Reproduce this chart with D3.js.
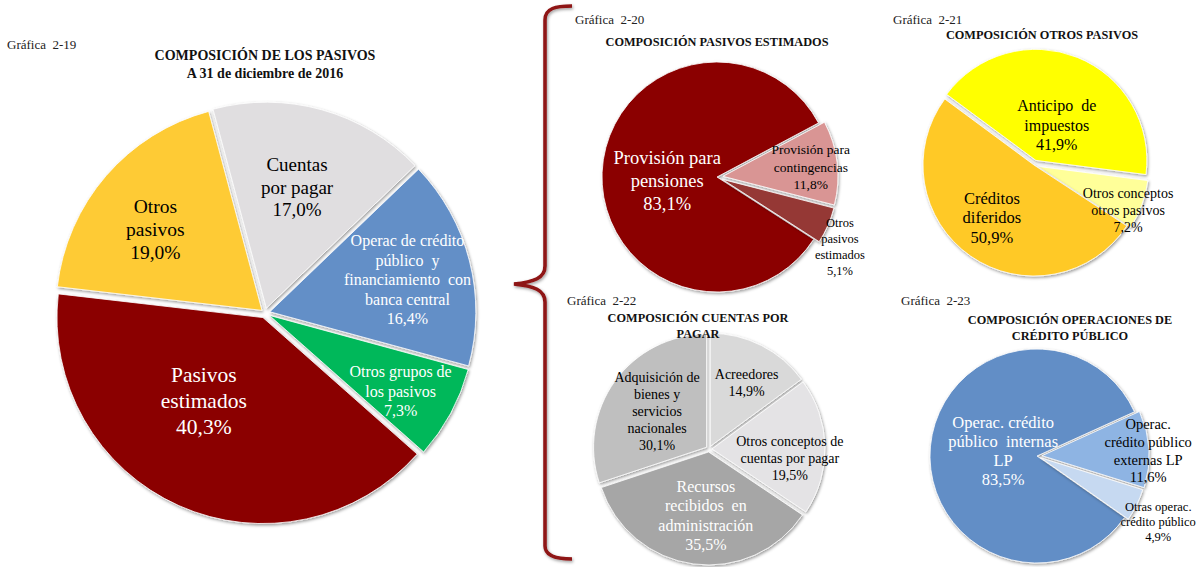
<!DOCTYPE html>
<html>
<head>
<meta charset="utf-8">
<script src="https://cdn.jsdelivr.net/npm/d3@7"></script>
<style>
    body { margin: 0; background: #fff; }
    text { white-space: pre; }
</style>
</head>
<body>
<svg id="chart" width="1202" height="567"></svg>
<script>
// data (percent of each total)
const mainCategories = ["Cuentas\npor pagar", "Operac de crédito\npúblico  y\nfinanciamiento  con\nbanca central", "Otros grupos de\nlos pasivos", "Pasivos\nestimados", "Otros\npasivos"];
const mainValues = [17.0, 16.4, 7.3, 40.3, 19.0];

const estCategories = ["Provisión para\npensiones", "Provisión para\ncontingencias", "Otros\npasivos\nestimados"];
const estValues = [83.1, 11.8, 5.1];

const otrosCategories = ["Anticipo  de\nimpuestos", "Otros conceptos\notros pasivos", "Créditos\ndiferidos"];
const otrosValues = [41.9, 7.2, 50.9];

const cuentasCategories = ["Acreedores", "Otros conceptos de\ncuentas por pagar", "Recursos\nrecibidos  en\nadministración", "Adquisición de\nbienes y\nservicios\nnacionales"];
const cuentasValues = [14.9, 19.5, 35.5, 30.1];

const creditoCategories = ["Operac. crédito\npúblico  internas\nLP", "Operac.\ncrédito público\nexternas LP", "Otras operac.\ncrédito público"];
const creditoValues = [83.5, 11.6, 4.9];

const FONT = "'Liberation Serif', 'Times New Roman', Times, serif";
const pct = v => d3.format(".1f")(v).replace(".", ",") + "%";

const charts = [
    {
        cats: mainCategories, vals: mainValues,
        cx: 265, cy: 313, r: 206, start: -15,
        colors: ["#e0dee0", "#648fc7", "#00b85a", "#8b0000", "#fecb35"],
        explode: [5, 5, 5, 5, 4],
        textColors: ["#000", "#fff", "#fff", "#fff", "#000"],
        fontSizes: [19, 16, 16, 21.5, 19.5],
        lineH: [22.5, 19.5, 19.5, 26, 23],
        labelR: [0.63, 0.71, 0.76, 0.52, 0.67],
        labelShift: [-1.3, 1.2, 1.6, 10.8, -3.4],
        num: "Gráfica  2-19", numX: 7, numY: 49,
        title: ["COMPOSICIÓN DE LOS PASIVOS", "A 31 de diciembre de 2016"],
        titleX: 265, titleY: 60, titleSize: 14, titleLH: 18
    },
    {
        cats: estCategories, vals: estValues,
        cx: 717, cy: 177, r: 115, start: -237.2,
        colors: ["#8b0000", "#d99594", "#953735"],
        explode: [0, 6, 6],
        textColors: ["#fff", "#000", "#000"],
        fontSizes: [18.5, 13.5, 12.5],
        lineH: [23, 17.3, 16.3],
        labelR: [0.435, 0.82, 1.23],
        labelShift: [-7, 0.8, 6],
        num: "Gráfica  2-20", numX: 575, numY: 24,
        title: ["COMPOSICIÓN PASIVOS ESTIMADOS"],
        titleX: 717, titleY: 46, titleSize: 12.3, titleLH: 16
    },
    {
        cats: otrosCategories, vals: otrosValues,
        cx: 1034, cy: 165, r: 111, start: -53.5,
        colors: ["#ffff00", "#ffff99", "#ffc926"],
        explode: [5, 4, 0],
        textColors: ["#000", "#000", "#000"],
        fontSizes: [16, 14, 16.5],
        lineH: [19.5, 17, 19.5],
        labelR: [0.41, 0.94, 0.61],
        labelShift: [8, 5.3, 3.6],
        num: "Gráfica  2-21", numX: 893, numY: 24,
        title: ["COMPOSICIÓN OTROS PASIVOS"],
        titleX: 1042, titleY: 39, titleSize: 12.3, titleLH: 16
    },
    {
        cats: cuentasCategories, vals: cuentasValues,
        cx: 709, cy: 449, r: 113, start: 0,
        colors: ["#d9d9d9", "#e4e3e5", "#a6a6a6", "#bfbfbf"],
        explode: [3, 3, 3, 3],
        textColors: ["#000", "#000", "#fff", "#000"],
        fontSizes: [14, 14, 16, 14],
        lineH: [17, 17, 19.5, 17],
        labelR: [0.67, 0.72, 0.59, 0.57],
        labelShift: [3, 7.6, -5, 0.4],
        num: "Gráfica  2-22", numX: 567, numY: 305,
        title: ["COMPOSICIÓN CUENTAS POR", "PAGAR"],
        titleX: 698, titleY: 322, titleSize: 12.3, titleLH: 16
    },
    {
        cats: creditoCategories, vals: creditoValues,
        cx: 1037, cy: 456, r: 107, start: -235,
        colors: ["#628ec6", "#8eb4e3", "#c6d9f1"],
        explode: [0, 5, 4],
        textColors: ["#fff", "#000", "#000"],
        fontSizes: [16.5, 14.5, 12.5],
        lineH: [19, 17.7, 15],
        labelR: [0.32, 1.04, 1.29],
        labelShift: [3, 1, 2.4],
        num: "Gráfica  2-23", numX: 901, numY: 305,
        title: ["COMPOSICIÓN OPERACIONES DE", "CRÉDITO PÚBLICO"],
        titleX: 1070, titleY: 324, titleSize: 12.3, titleLH: 16
    }
];

const svg = d3.select("#chart");

const defs = svg.append("defs");
const filter = defs.append("filter")
    .attr("id", "shadow")
    .attr("x", "-20%").attr("y", "-20%")
    .attr("width", "140%").attr("height", "140%");
filter.append("feDropShadow")
    .attr("dx", 1).attr("dy", 1.5)
    .attr("stdDeviation", 1.6)
    .attr("flood-color", "#000")
    .attr("flood-opacity", 0.4);

function drawPie(c) {
    const rad = Math.PI / 180;
    const pie = d3.pie()
        .sort(null)
        .value(d => d)
        .startAngle(c.start * rad)
        .endAngle(c.start * rad + 2 * Math.PI);

    const arc = d3.arc()
        .innerRadius(0)
        .outerRadius(c.r);

    const g = svg.append("g")
        .attr("transform", "translate(" + c.cx + "," + c.cy + ")");

    const arcs = pie(c.vals);

    g.selectAll("path")
        .data(arcs)
        .enter()
        .append("path")
        .attr("d", arc)
        .attr("fill", (d, i) => c.colors[i])
        .attr("stroke", "#fff")
        .attr("stroke-width", 0.8)
        .attr("filter", "url(#shadow)")
        .attr("transform", (d, i) => {
            const mid = (d.startAngle + d.endAngle) / 2;
            const e = c.explode[i];
            return "translate(" + Math.sin(mid) * e + "," + (-Math.cos(mid) * e) + ")";
        });

    arcs.forEach((d, i) => {
        const ang = (d.startAngle + d.endAngle) / 2 + c.labelShift[i] * rad;
        const dist = c.labelR[i] * c.r;
        const x = Math.sin(ang) * dist;
        const y = -Math.cos(ang) * dist;
        const lines = c.cats[i].split("\n").concat([pct(c.vals[i])]);
        const fs = c.fontSizes[i], lh = c.lineH[i];
        const y0 = y - (lines.length - 1) * lh / 2 + fs * 0.33;

        const t = g.append("text")
            .attr("text-anchor", "middle")
            .attr("font-family", FONT)
            .attr("font-size", fs)
            .attr("fill", c.textColors[i]);
        lines.forEach((ln, k) => {
            t.append("tspan")
                .attr("x", x)
                .attr("y", y0 + k * lh)
                .text(ln);
        });
    });

    svg.append("text")
        .attr("x", c.numX)
        .attr("y", c.numY)
        .attr("font-family", FONT)
        .attr("font-size", 13)
        .attr("fill", "#222")
        .text(c.num);

    const tt = svg.append("text")
        .attr("text-anchor", "middle")
        .attr("font-family", FONT)
        .attr("font-size", c.titleSize)
        .attr("font-weight", "bold")
        .attr("fill", "#111");
    c.title.forEach((ln, k) => {
        tt.append("tspan")
            .attr("x", c.titleX)
            .attr("y", c.titleY + k * c.titleLH)
            .text(ln);
    });
}

charts.forEach(drawPie);

// brace joining the main chart to the four breakdowns
svg.append("path")
    .attr("d", "M572,6 C556,6 545,8 545,20 L545,266 C545,278 534,282 514,284 C534,286 545,290 545,302 L545,546 C545,556 556,559 572,559")
    .attr("fill", "none")
    .attr("stroke", "#8e1212")
    .attr("stroke-width", 3.5)
    .attr("filter", "url(#shadow)");
</script>
</body>
</html>
